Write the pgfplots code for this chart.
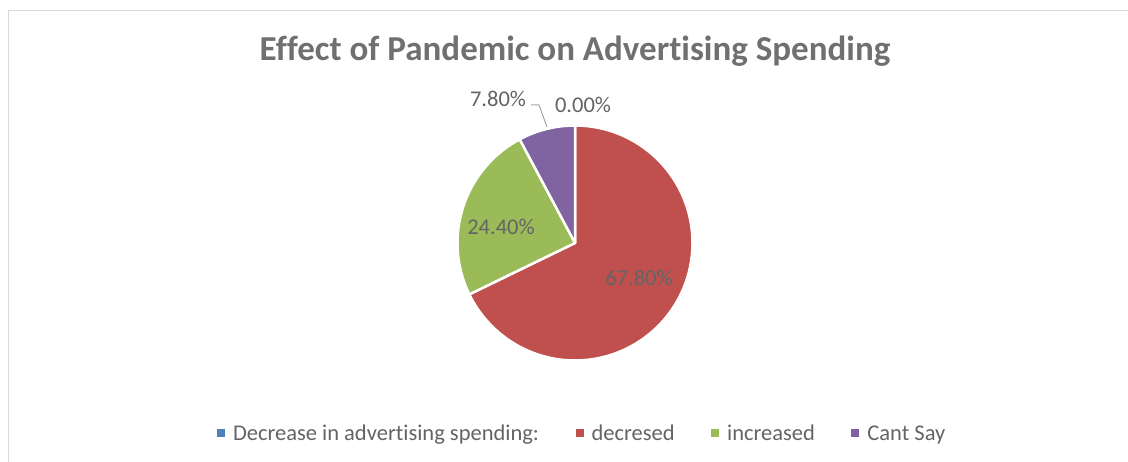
\documentclass[border=0pt]{standalone}
\usepackage{pgfplots}
\pgfplotsset{compat=1.18}
\usepackage{fontspec}
\setmainfont[Ligatures={NoCommon}, Contextuals={NoAlternate}]{Carlito}
\definecolor{cblue}{HTML}{4F81BD}
\definecolor{cred}{HTML}{C0504D}
\definecolor{cgreen}{HTML}{9BBB59}
\definecolor{cpurple}{HTML}{8064A2}
\definecolor{ctitle}{HTML}{707070}
\definecolor{ctext}{HTML}{646464}
\definecolor{cframe}{HTML}{D9D9D9}
\definecolor{cleader}{HTML}{A6A6A6}
% shares (percent): Decrease in advertising spending: 0, decresed 67.8, increased 24.4, Cant Say 7.8
% pie centre (575,219) in picture units, radius 117.5, start at 90 deg, clockwise
\begin{document}
\begin{tikzpicture}
\begin{axis}[
  width=1128bp, height=462bp, scale only axis,
  xmin=0, xmax=1128, ymin=0, ymax=462,
  axis lines=none, clip=false,
  legend columns=4,
  legend image code/.code={\path[draw=none,fill=none] (0bp,0bp) -- (8bp,0bp); \fill[draw=none] (0bp,3.3bp) rectangle (8bp,11.3bp);},
  legend style={draw=none, fill=none, inner sep=0pt, outer sep=0pt,
    at={(axis cs:217,27.5)}, anchor=west,
    font=\fontsize{22.5bp}{27bp}\selectfont, text=ctext,
    cells={anchor=base west},
    nodes={inner sep=0pt, text height=16bp, text depth=5bp},
    /tikz/every odd column/.append style={column sep=8bp},
    /tikz/every even column/.append style={column sep=36.5bp}},
]
% decresed: 67.8% -> from 90 down to 90-244.08
\addplot[fill=cred, draw=white, line width=2.5bp, line join=round, domain=-154.08:90, samples=150, forget plot]
  ({575+117.5*cos(x)},{219+117.5*sin(x)}) -- (axis cs:575,219) -- cycle;
% increased: 24.4% -> 87.84 deg
\addplot[fill=cgreen, draw=white, line width=2.5bp, line join=round, domain=-241.92:-154.08, samples=60, forget plot]
  ({575+117.5*cos(x)},{219+117.5*sin(x)}) -- (axis cs:575,219) -- cycle;
% Cant Say: 7.8% -> 28.08 deg
\addplot[fill=cpurple, draw=white, line width=2.5bp, line join=round, domain=-270:-241.92, samples=30, forget plot]
  ({575+117.5*cos(x)},{219+117.5*sin(x)}) -- (axis cs:575,219) -- cycle;

\addlegendimage{fill=cblue, draw=none}
\addlegendentry{Decrease in advert\kern0pt ising spending:}
\addlegendimage{fill=cred, draw=none}
\addlegendentry{decresed}
\addlegendimage{fill=cgreen, draw=none}
\addlegendentry{increased}
\addlegendimage{fill=cpurple, draw=none}
\addlegendentry{Cant Say}

% frame
\draw[cframe, line width=1.2bp] (axis cs:8.5,0) -- (axis cs:8.5,451.5) -- (axis cs:1128,451.5);
% title
\node[anchor=base, text=ctitle, font=\fontsize{35bp}{42bp}\selectfont\bfseries] at (axis cs:575,401) {Effect of Pandemic on Advert\kern0pt ising Spending};
% data labels
\node[anchor=base, text=ctext, font=\fontsize{22.5bp}{27bp}\selectfont] at (axis cs:639,176) {67.80\%};
\node[anchor=base, text=ctext, font=\fontsize{22.5bp}{27bp}\selectfont] at (axis cs:501,227) {24.40\%};
\node[anchor=base, text=ctext, font=\fontsize{22.5bp}{27bp}\selectfont] at (axis cs:498,355) {7.80\%};
\node[anchor=base, text=ctext, font=\fontsize{22.5bp}{27bp}\selectfont] at (axis cs:583,349) {0.00\%};
\draw[cleader, line width=1bp] (axis cs:531,357) -- (axis cs:539,357) -- (axis cs:547,335);
\end{axis}
\pgfresetboundingbox
\path[use as bounding box] (0,0) rectangle (1128bp,462bp);
\end{tikzpicture}
\end{document}
